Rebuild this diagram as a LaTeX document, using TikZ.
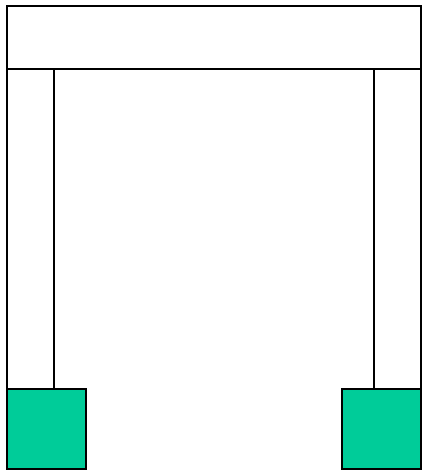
\documentclass[tikz,border=0pt]{standalone}
\definecolor{boxgreen}{HTML}{00CC99}
\tikzset{frame/.style={draw=black,line width=2pt,fill=white},
  foot/.style={draw=black,line width=2pt,fill=boxgreen}}
\begin{document}
\begin{tikzpicture}[x=1pt,y=-1pt]
\useasboundingbox (0,0) rectangle (422,471);
\draw[frame] (6.5,5.5) rectangle (421,69) coordinate (topbr);
\node[coordinate] (tl) at (6.5,69) {};
\draw[frame] (6.5,69) rectangle (54,389);
\draw[frame] (374,69) rectangle (421,389);
\draw[foot] (6.5,389) rectangle (86,468.5);
\draw[foot] (342,389) rectangle (421,468.5);
\end{tikzpicture}
\end{document}
